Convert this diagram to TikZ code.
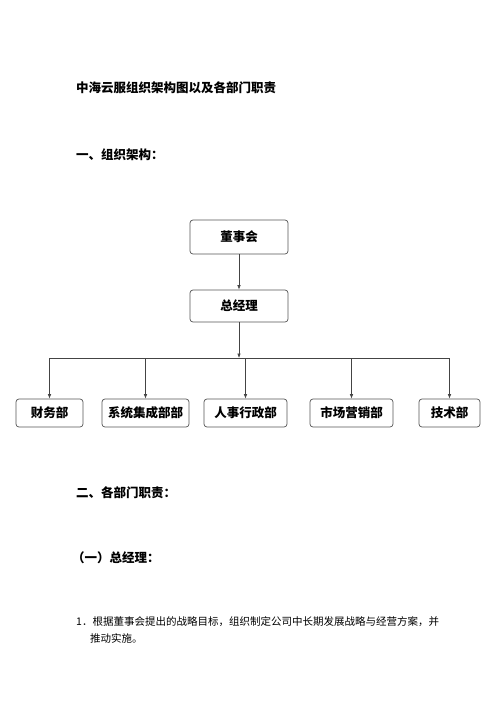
\documentclass[tikz,border=0pt]{standalone}
\usepackage{fontspec}
\usetikzlibrary{arrows.meta}
\newfontfamily\cjk{Noto Sans CJK SC}
\definecolor{linie}{HTML}{444444}
\definecolor{rahmen}{HTML}{555555}
\tikzset{
  pfeil/.style={-{Latex[length=4.5pt,width=3.5pt]},linie,line width=0.6pt},
  strich/.style={linie,line width=0.6pt},
  kasten/.style={draw=rahmen,line width=0.7pt,rounded corners=3pt,font=\cjk\bfseries\fontsize{12.5}{14}\selectfont,inner sep=0pt},
  titel/.style={anchor=west,inner sep=0pt,font=\cjk\bfseries\fontsize{12.5}{14}\selectfont},
  text1/.style={anchor=west,inner sep=0pt,font=\cjk\fontsize{10.5}{12}\selectfont},
}
\begin{document}
\begin{tikzpicture}[x=1pt,y=-1pt]
  \useasboundingbox[fill=white] (0,0) rectangle (500,707);
  % Ueberschriften
  \node[titel] (haupt) at (76,88) {中海云服组织架构图以及各部门职责};
  \node[titel] (teil1) at (76,155) {一、组织架构：};
  % Organigramm
  \node[kasten,minimum width=98pt,minimum height=34pt] (dsh) at (239,237) {董事会};
  \node[kasten,minimum width=98pt,minimum height=32pt] (zjl) at (239,306) {总经理};
  \coordinate (bar) at (239,358);
  \node[kasten,minimum width=67pt,minimum height=28pt] (cw) at (49.5,413) {财务部};
  \node[kasten,minimum width=87pt,minimum height=28pt] (xt) at (145.5,413) {系统集成部部};
  \node[kasten,minimum width=83pt,minimum height=28pt] (rs) at (245.5,413) {人事行政部};
  \node[kasten,minimum width=83pt,minimum height=28pt] (sc) at (351.5,413) {市场营销部};
  \node[kasten,minimum width=61pt,minimum height=28pt] (js) at (449.5,413) {技术部};
  \draw[pfeil] (dsh) -- (zjl);
  \draw[pfeil] (zjl) -- (bar);
  \draw[strich] (cw |- bar) -- (js |- bar);
  \foreach \b in {cw,xt,rs,sc,js}{\draw[pfeil] (\b |- bar) -- (\b);}
  % Abschnitt 2
  \node[titel] (teil2) at (76,493) {二、各部门职责：};
  \node[titel] (teil21) at (72,558) {（一）总经理：};
  \node[text1] (punkt1a) at (76,622) {1．根据董事会提出的战略目标，组织制定公司中长期发展战略与经营方案，并};
  \node[text1] (punkt1b) at (90,638) {推动实施。};
\end{tikzpicture}
\end{document}
